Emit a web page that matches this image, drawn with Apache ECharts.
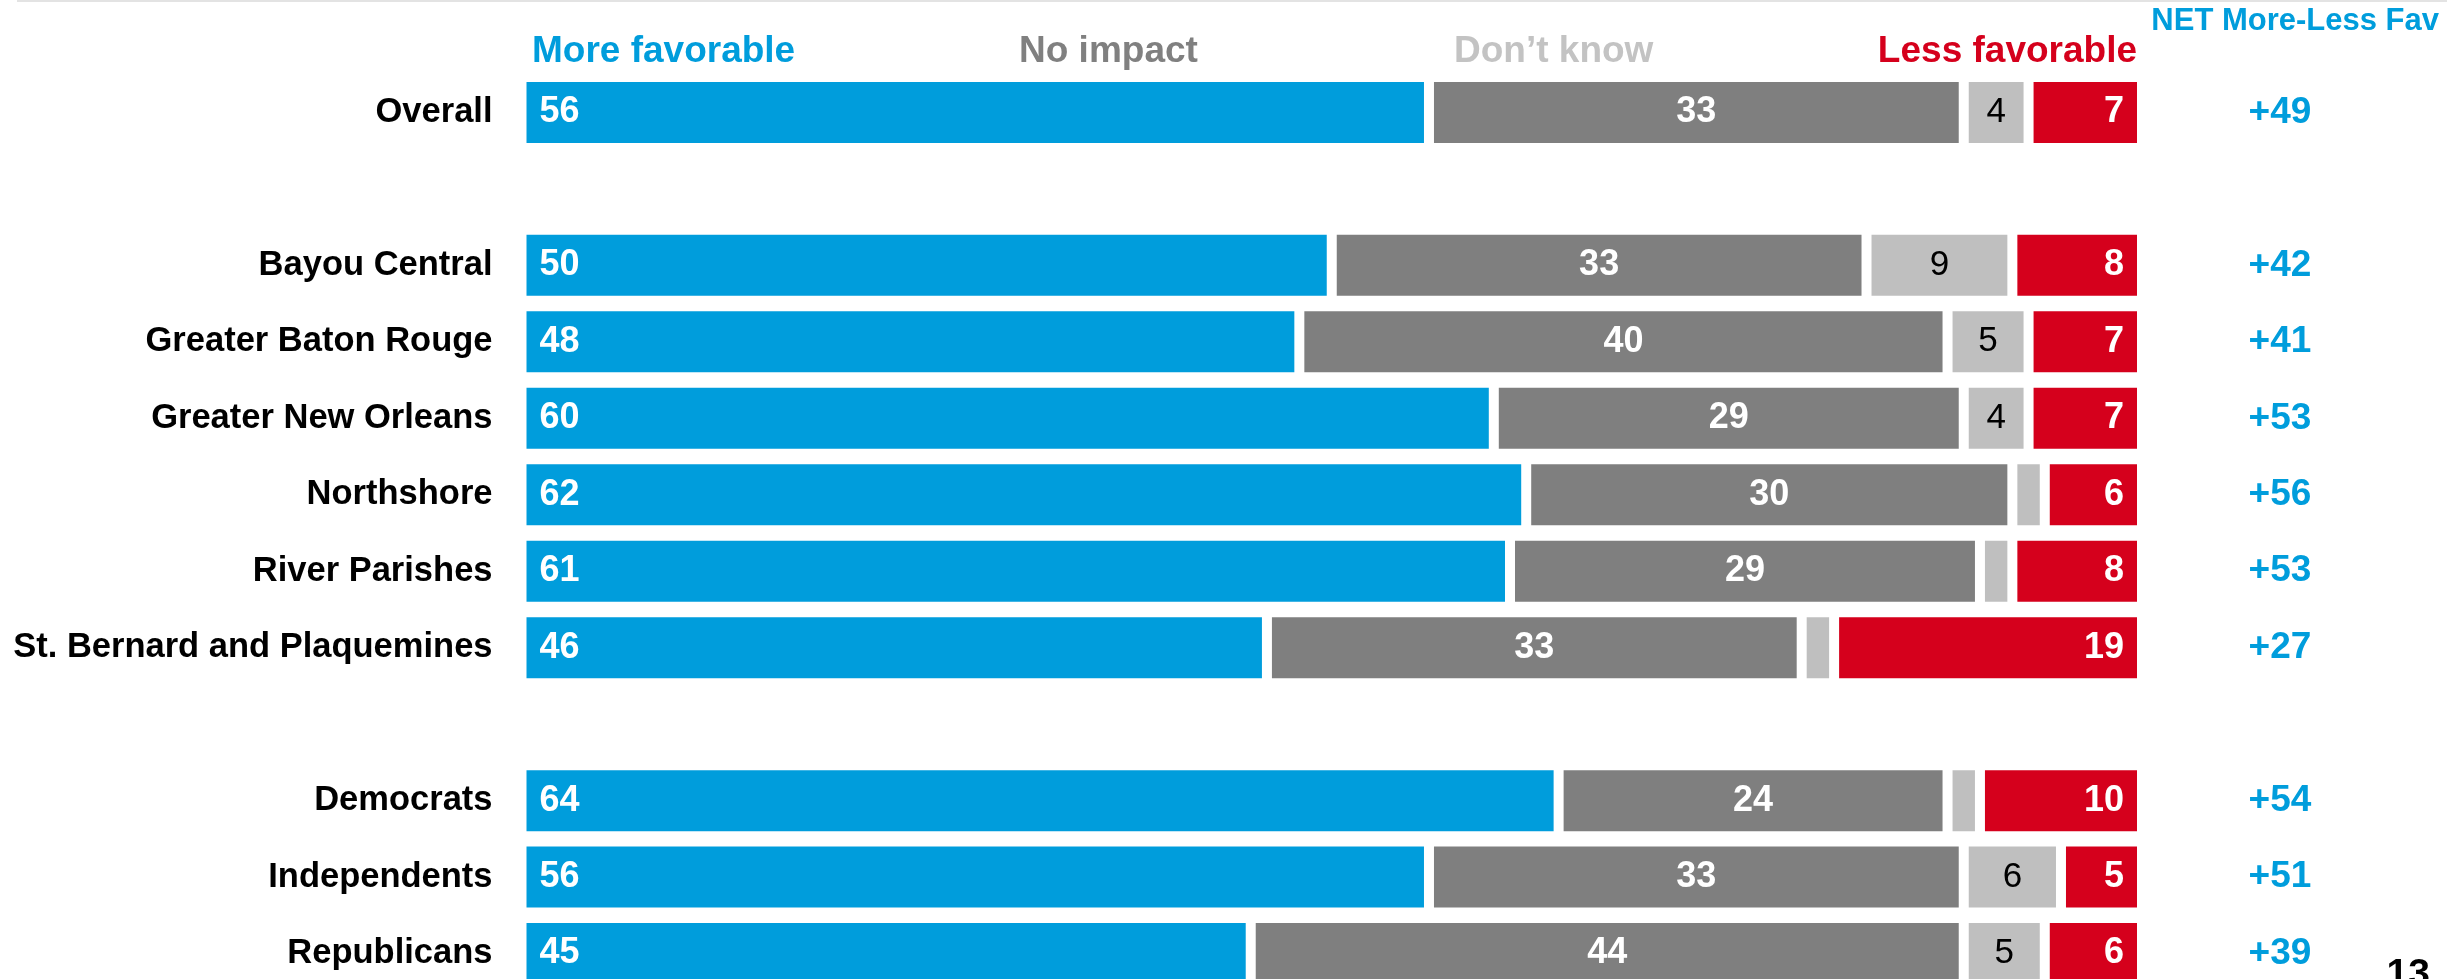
<!DOCTYPE html>
<html>
<head>
<meta charset="utf-8">
<script src="https://cdn.jsdelivr.net/npm/echarts@6/dist/echarts.min.js"></script>
<style>
html,body{margin:0;padding:0;background:#fff;}
#chart{width:2447px;height:979px;}
</style>
</head>
<body>
<div id="chart"></div>
<script>
// ---- data ----
const categories = ['Overall', '', 'Bayou Central', 'Greater Baton Rouge', 'Greater New Orleans', 'Northshore', 'River Parishes', 'St. Bernard and Plaquemines', '', 'Democrats', 'Independents', 'Republicans'];
const moreFavorable = [56, null, 50, 48, 60, 62, 61, 46, null, 64, 56, 45];
const noImpact      = [33, null, 33, 40, 29, 30, 29, 33, null, 24, 33, 44];
const dontKnow      = [4,  null, 9,  5,  4,  2,  2,  2,  null, 2,  6,  5];
const lessFavorable = [7,  null, 8,  7,  7,  6,  8,  19, null, 10, 5,  6];
const netLabels     = ['+49', '', '+42', '+41', '+53', '+56', '+53', '+27', '', '+54', '+51', '+39'];
const seriesNames   = ['More favorable', 'No impact', 'Don\u2019t know', 'Less favorable'];
const netTitle = 'NET More-Less Fav';
const pageNumber = '13';

const FONT = '"Liberation Sans", Arial, sans-serif';
const C_BLUE = '#009ddc', C_GRAY = '#7f7f7f', C_LGRAY = '#bfbfbf', C_RED = '#d5001c';

const chart = echarts.init(document.getElementById('chart'), null, {renderer: 'canvas'});

function hideSmall(minV) {
  return function (p) { return (p.value != null && p.value >= minV) ? String(p.value) : ''; };
}

const common = {
  type: 'bar', stack: 'total', barWidth: 71,
  emphasis: {disabled: true},
  animation: false
};

const option = {
  animation: false,
  backgroundColor: '#ffffff',
  grid: {left: 521.5, right: 305, top: 74.2, height: 917.6, containLabel: false, outerBoundsMode: 'none'},
  xAxis: {type: 'value', min: 0, max: 100, show: false},
  yAxis: [{
    type: 'category', data: categories, inverse: true,
    axisLine: {show: false}, axisTick: {show: false}, splitLine: {show: false},
    axisLabel: {fontFamily: FONT, fontSize: 34.5, fontWeight: 'bold', color: '#000', margin: 29}
  }, {
    type: 'category', data: netLabels, inverse: true, position: 'right',
    axisLine: {show: false}, axisTick: {show: false}, splitLine: {show: false},
    axisLabel: {fontFamily: FONT, fontSize: 37, fontWeight: 'bold', color: C_BLUE, margin: 138, align: 'center'}
  }],
  series: [
    Object.assign({}, common, {
      name: seriesNames[0], data: moreFavorable,
      itemStyle: {color: C_BLUE, borderColor: '#fff', borderWidth: 5},
      label: {show: true, position: 'insideLeft', distance: 18, color: '#fff', fontFamily: FONT, fontSize: 36, fontWeight: 'bold', formatter: hideSmall(3)}
    }),
    Object.assign({}, common, {
      name: seriesNames[1], data: noImpact,
      itemStyle: {color: C_GRAY, borderColor: '#fff', borderWidth: 5},
      label: {show: true, position: 'inside', color: '#fff', fontFamily: FONT, fontSize: 36, fontWeight: 'bold', formatter: hideSmall(3)}
    }),
    Object.assign({}, common, {
      name: seriesNames[2], data: dontKnow,
      itemStyle: {color: C_LGRAY, borderColor: '#fff', borderWidth: 5},
      label: {show: true, position: 'inside', color: '#000', fontFamily: FONT, fontSize: 35, fontWeight: 'normal', formatter: hideSmall(3)}
    }),
    Object.assign({}, common, {
      name: seriesNames[3], data: lessFavorable,
      itemStyle: {color: C_RED, borderColor: '#fff', borderWidth: 5},
      label: {show: true, position: 'insideRight', distance: 18, color: '#fff', fontFamily: FONT, fontSize: 36, fontWeight: 'bold', formatter: hideSmall(1)}
    })
  ],
  graphic: [
    {type: 'rect', shape: {x: 17, y: 0, width: 2430, height: 2}, style: {fill: '#e3e3e3'}, silent: true},
    {type: 'text', x: 532, y: 52, style: {text: seriesNames[0], fill: C_BLUE, font: 'bold 37px ' + FONT, textAlign: 'left', textVerticalAlign: 'middle'}},
    {type: 'text', x: 1019, y: 52, style: {text: seriesNames[1], fill: '#808080', font: 'bold 37px ' + FONT, textAlign: 'left', textVerticalAlign: 'middle'}},
    {type: 'text', x: 1454, y: 52, style: {text: seriesNames[2], fill: '#c3c3c3', font: 'bold 37px ' + FONT, textAlign: 'left', textVerticalAlign: 'middle'}},
    {type: 'text', x: 2137, y: 52, style: {text: seriesNames[3], fill: C_RED, font: 'bold 37px ' + FONT, textAlign: 'right', textVerticalAlign: 'middle'}},
    {type: 'text', x: 2439, y: 21, style: {text: netTitle, fill: C_BLUE, font: 'bold 31px ' + FONT, textAlign: 'right', textVerticalAlign: 'middle'}},
    {type: 'text', x: 2430, y: 995, style: {text: pageNumber, fill: '#000', font: 'bold 39px ' + FONT, textAlign: 'right', textVerticalAlign: 'bottom'}}
  ]
};
chart.setOption(option);
</script>
</body>
</html>
